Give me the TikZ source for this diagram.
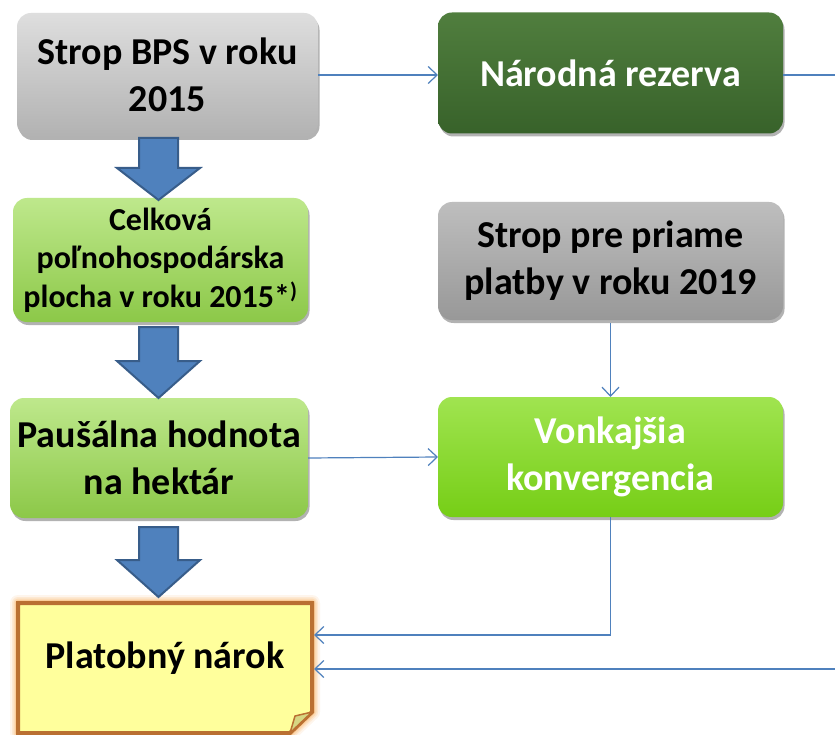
\documentclass[tikz,border=0pt]{standalone}
\usepackage{fontspec}
\setmainfont{Carlito}
\usetikzlibrary{arrows.meta,shadows,calc}
\definecolor{lineblue}{RGB}{79,129,189}
\definecolor{arrowblue}{RGB}{79,129,189}
\definecolor{arrowedge}{RGB}{56,93,138}
\definecolor{grayA}{RGB}{222,222,222}
\definecolor{grayB}{RGB}{178,178,178}
\definecolor{grayC}{RGB}{190,190,190}
\definecolor{grayD}{RGB}{152,152,152}
\definecolor{lgreenA}{RGB}{190,232,140}
\definecolor{lgreenB}{RGB}{140,200,72}
\definecolor{vgreenA}{RGB}{160,228,80}
\definecolor{vgreenB}{RGB}{118,206,22}
\definecolor{dgreenA}{RGB}{80,126,62}
\definecolor{dgreenB}{RGB}{56,98,42}
\definecolor{noteyellow}{RGB}{255,255,156}
\definecolor{notebrown}{RGB}{186,112,50}
\definecolor{noteglow}{RGB}{250,180,100}
\definecolor{notefold}{RGB}{214,214,130}
\tikzset{
  box/.style={rounded corners=14pt, align=center, inner sep=0pt, outer sep=0pt,
    font=\fontsize{38}{47}\selectfont\bfseries,
    drop shadow={shadow xshift=1.5pt, shadow yshift=-3pt, opacity=0.3, fill=black}},
  graybox/.style={box, top color=grayA, bottom color=grayB},
  darkgraybox/.style={box, top color=grayC, bottom color=grayD},
  lgreenbox/.style={box, top color=lgreenA, bottom color=lgreenB},
  vgreenbox/.style={box, top color=vgreenA, bottom color=vgreenB, text=white},
  dgreenbox/.style={box, top color=dgreenA, bottom color=dgreenB, text=white},
  conn/.style={draw=lineblue, line width=1.2pt,
    -{Straight Barb[length=9pt,width=17pt,line width=1.2pt]}},
  bigarrow/.style={fill=arrowblue, draw=arrowedge, line width=2pt, line join=miter},
  notetext/.style={font=\fontsize{38}{47}\selectfont\bfseries, inner sep=0pt}
}
\newcommand{\bigdown}[3]{%
  \draw[bigarrow] (139,#1) -- (178,#1) -- (178,#2) -- (200,#2) -- (158.5,#3) -- (117,#2) -- (139,#2) -- cycle;}
\begin{document}
\begin{tikzpicture}[x=1pt,y=-1pt]
\useasboundingbox (0,0) rectangle (835,735);
\clip (0,0) rectangle (835,735);
\fill[white] (0,0) rectangle (835,735);

% left column
\node[graybox, minimum width=301pt, minimum height=124pt] (s1) at (167.5,75) {Strop BPS v roku\\2015};
\node[lgreenbox, minimum width=295pt, minimum height=124pt,
      font=\fontsize{32}{38.5}\selectfont\bfseries] (celk) at (160.5,260)
      {Celková\\poľnohospodárska\\plocha v roku 2015*\textsuperscript{)}};
\node[lgreenbox, minimum width=298pt, minimum height=120pt] (paus) at (159,458) {Paušálna hodnota\\na hektár};

% note box
\node[minimum width=294pt, minimum height=130pt, inner sep=0pt, outer sep=0pt] (plat) at (165,668) {};
\foreach \w/\o in {16/0.12,12/0.18,9/0.25,6/0.35}{
  \draw[noteglow, line width=\w pt, opacity=\o, line join=round]
    (plat.north west) -- (plat.north east) -- ([yshift=21pt]plat.south east)
    -- ([xshift=-22pt]plat.south east) -- (plat.south west) -- cycle;}
\draw[fill=noteyellow, draw=notebrown, line width=4pt, line join=miter]
    (plat.north west) -- (plat.north east) -- ([yshift=21pt]plat.south east)
    -- ([xshift=-22pt]plat.south east) -- (plat.south west) -- cycle;
\draw[fill=notefold, draw=notebrown, line width=1.5pt, line join=round]
    ([xshift=-22pt]plat.south east) -- ([xshift=-17pt,yshift=17pt]plat.south east)
    -- ([yshift=21pt]plat.south east) -- cycle;
\node[notetext] (plattext) at (165,658) {Platobný nárok};

% right column
\node[dgreenbox, minimum width=345pt, minimum height=121pt] (nar) at (610.5,73) {Národná rezerva};
\node[darkgraybox, minimum width=345pt, minimum height=118pt] (s2) at (610.5,261) {Strop pre priame\\platby v roku 2019};
\node[vgreenbox, minimum width=345pt, minimum height=120pt] (vonk) at (610.5,457) {Vonkajšia\\konvergencia};

\coordinate (offR) at (860,0);

% connectors
\draw[conn] (s1.east |- 0,75) -- (nar.west |- 0,75);
\draw[conn] ([yshift=-3pt]s2.south) -- (vonk.north);
\draw[conn] (paus.east) -- (vonk.west);
\draw[conn, shorten >=2pt] (vonk.south) |- ([yshift=33pt]plat.east);
\draw[conn, shorten >=2pt] (nar.east |- 0,75) -- (offR |- 0,75) |- ([yshift=-1pt]plat.east);

% block arrows
\bigdown{138}{168}{200}
\bigdown{327}{361}{398}
\bigdown{527}{560}{597}
\end{tikzpicture}
\end{document}
